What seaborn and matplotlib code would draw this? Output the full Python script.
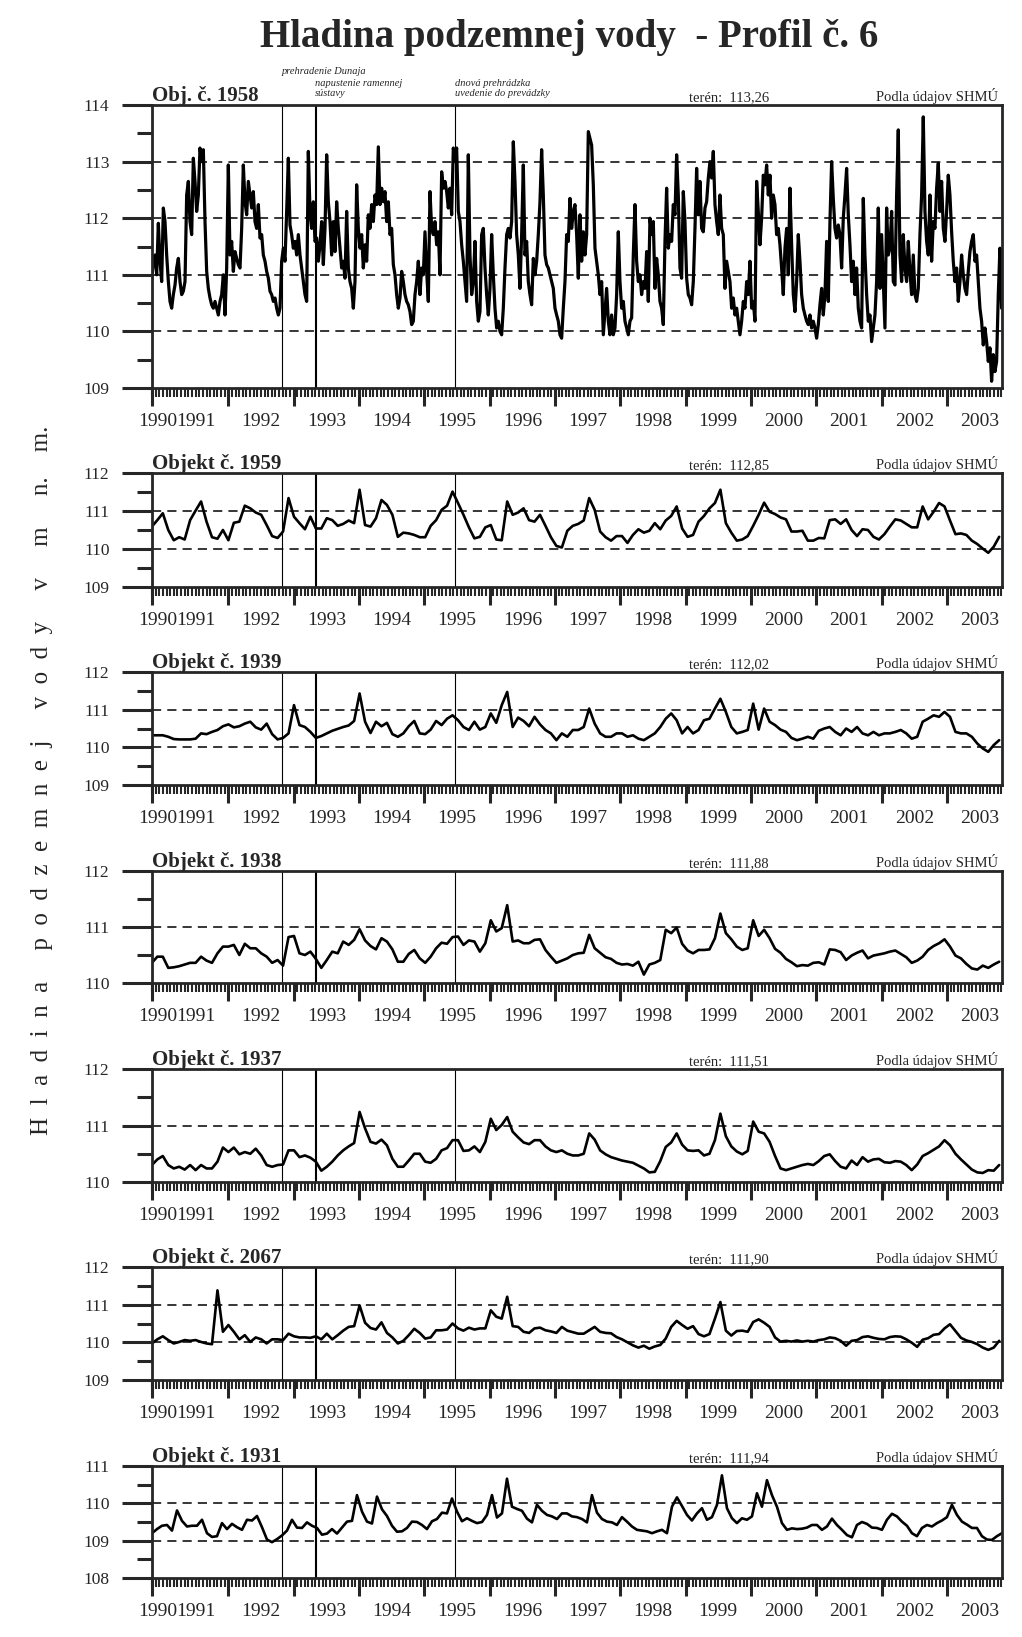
import numpy as np
import pandas as pd
import matplotlib
matplotlib.use("Agg")
import matplotlib.pyplot as plt
import matplotlib.transforms as mtransforms
import seaborn as sns

# ---------------- data (groundwater level, m a.s.l.) ----------------
# measurement period covered by the plots (decimal years)
start_1958, end_1958 = 1990.827, 2003.837
start_mid, end_mid = 1990.83, 2003.80
start_1931, end_1931 = 1990.832, 2003.842

lvl_1958 = [
    110.91,111.24,111.35,111.00,111.91,111.24,110.88,112.18,111.94,111.35,
    110.88,110.53,110.41,110.65,110.82,111.12,111.29,110.88,110.65,110.71,
    110.88,112.41,112.65,111.94,111.71,113.06,112.65,112.12,112.41,113.24,
    113.00,113.21,111.94,111.06,110.76,110.59,110.47,110.41,110.53,110.41,
    110.29,110.53,110.65,111.00,110.29,111.12,112.94,111.35,111.59,111.06,
    111.41,111.29,111.18,111.12,111.82,112.94,112.29,112.06,112.65,112.41,
    112.18,112.47,111.94,111.82,112.24,111.65,111.71,111.35,111.24,111.06,
    110.94,110.71,110.65,110.53,110.59,110.41,110.29,110.41,111.24,111.47,
    111.24,112.12,113.06,111.88,111.71,111.47,111.59,111.35,111.71,111.35,
    111.12,110.88,110.65,110.53,113.18,112.12,111.82,112.29,111.59,111.65,
    111.24,111.53,111.94,111.18,111.82,113.12,112.29,111.94,111.35,111.94,
    111.41,112.29,111.82,111.47,111.12,111.24,110.94,112.12,111.12,110.88,
    110.76,110.41,110.88,112.59,111.82,111.47,111.71,111.12,111.53,111.24,
    112.06,111.82,112.24,111.94,112.41,112.24,113.26,112.24,112.53,112.29,
    112.47,111.94,112.29,111.71,111.82,111.18,111.00,110.65,110.41,110.59,
    111.06,110.88,110.65,110.53,110.47,110.35,110.12,110.18,110.65,110.88,
    111.24,110.65,111.12,111.00,111.76,111.06,110.53,112.47,111.82,111.71,
    111.94,111.53,111.76,111.00,112.82,112.53,112.65,112.47,112.18,112.53,
    112.06,113.24,113.00,113.24,112.12,111.94,111.53,111.24,110.88,110.53,
    113.12,111.35,110.65,110.88,111.59,110.53,110.18,110.35,111.71,111.82,
    111.12,110.65,110.29,110.76,111.71,111.00,110.41,110.06,110.18,110.00,
    109.94,110.41,111.12,111.71,111.82,111.65,111.94,113.35,112.65,111.71,
    111.35,110.76,111.71,112.94,111.35,111.59,110.88,110.65,110.47,111.29,
    111.00,111.24,111.71,112.29,113.21,112.41,111.35,111.18,111.12,111.00,
    110.88,110.76,110.41,110.29,110.18,109.94,109.88,110.41,110.88,111.71,
    111.59,112.35,111.82,112.12,112.24,111.71,110.94,112.06,
    111.24,111.76,111.35,111.71,113.53,113.41,113.29,112.59,111.47,111.24,
    111.00,110.65,110.88,109.94,110.35,110.76,110.18,109.94,110.29,109.94,
    110.06,110.65,111.76,110.88,110.41,110.53,110.18,110.06,109.94,110.18,
    110.24,111.35,112.24,111.24,110.88,111.00,110.65,110.88,110.76,111.41,
    110.53,112.00,111.71,111.94,110.76,111.29,111.00,110.53,110.41,110.12,
    111.59,112.53,111.47,111.71,111.59,112.24,112.06,113.12,112.41,111.12,
    110.94,112.47,111.94,110.94,110.65,110.59,110.47,110.88,111.82,112.88,
    112.06,112.65,111.82,111.76,112.18,112.29,112.71,113.00,112.71,113.18,
    112.24,111.94,111.71,112.41,111.82,111.71,110.76,111.24,111.06,110.88,
    110.41,110.59,110.29,110.41,110.18,109.94,110.18,110.53,110.41,110.88,
    110.65,111.24,110.41,110.53,110.18,112.65,112.12,111.53,112.00,112.76,
    112.59,112.94,112.41,112.76,112.00,112.41,112.24,111.71,111.82,111.53,
    111.12,110.65,111.47,111.82,111.00,112.53,111.53,110.65,110.35,110.88,
    111.71,111.24,110.65,110.41,110.29,110.18,110.12,110.29,110.06,110.18,
    110.06,109.88,110.12,110.47,110.76,110.29,110.65,111.59,110.53,111.94,
    113.00,112.35,111.82,111.65,111.88,111.71,111.12,112.00,112.41,112.88,
    112.06,111.53,110.88,111.24,110.65,111.12,110.41,110.18,110.06,112.35,
    111.35,110.65,110.18,110.29,109.82,110.06,110.29,110.88,112.18,110.76,
    111.71,110.88,110.06,112.18,111.35,111.47,112.12,110.88,110.82,112.41,
    113.56,111.35,110.88,111.71,111.12,110.88,111.59,111.06,110.65,111.35,
    110.65,110.53,110.76,111.71,112.41,113.79,112.12,111.59,111.35,112.41,
    111.24,111.94,111.82,112.53,112.97,112.12,112.65,111.82,111.59,112.12,
    112.76,112.41,111.76,111.24,110.88,111.12,110.53,110.88,111.35,111.00,
    110.76,110.65,111.06,111.41,111.59,111.71,111.24,111.35,110.88,110.41,
    110.18,109.76,110.06,109.82,109.47,109.71,109.12,109.59,109.29,109.47,
    110.65,111.47,110.41,
]

lvl_1959 = [
    110.59,110.76,110.94,110.50,110.23,110.31,110.25,110.76,111.01,111.25,
    110.72,110.31,110.27,110.50,110.23,110.69,110.72,111.14,111.07,110.96,
    110.90,110.63,110.34,110.29,110.46,111.34,110.85,110.68,110.52,110.85,
    110.54,110.54,110.81,110.76,110.61,110.66,110.75,110.68,111.56,110.63,
    110.59,110.81,111.29,111.16,110.90,110.32,110.43,110.41,110.37,110.31,
    110.31,110.61,110.76,111.03,111.14,111.51,111.21,110.90,110.57,110.28,
    110.32,110.57,110.63,110.25,110.23,111.25,110.90,110.96,111.07,110.76,
    110.72,110.90,110.61,110.31,110.08,110.04,110.48,110.61,110.66,110.75,
    111.34,111.03,110.46,110.31,110.22,110.34,110.34,110.16,110.37,110.52,
    110.43,110.48,110.68,110.52,110.75,110.87,111.12,110.54,110.32,110.37,
    110.72,110.87,111.07,111.21,111.56,110.68,110.43,110.22,110.25,110.34,
    110.61,110.90,111.22,110.98,110.92,110.83,110.78,110.46,110.46,110.48,
    110.22,110.22,110.29,110.28,110.76,110.78,110.66,110.78,110.50,110.34,
    110.52,110.50,110.32,110.25,110.39,110.59,110.78,110.75,110.66,110.57,
    110.57,111.12,110.78,110.98,111.21,111.12,110.75,110.39,110.41,110.37,
    110.22,110.13,110.01,109.90,110.06,110.32,
]

lvl_1939 = [
    110.32,110.32,110.32,110.28,110.22,110.21,110.21,110.21,110.23,110.37,
    110.35,110.41,110.46,110.56,110.61,110.53,110.56,110.63,110.68,110.53,
    110.47,110.63,110.35,110.21,110.25,110.37,111.12,110.59,110.54,110.41,
    110.25,110.30,110.37,110.44,110.49,110.54,110.58,110.70,111.43,110.68,
    110.38,110.68,110.56,110.65,110.35,110.28,110.37,110.56,110.70,110.37,
    110.35,110.47,110.70,110.59,110.76,110.85,110.72,110.54,110.46,110.68,
    110.47,110.54,110.90,110.65,111.12,111.47,110.54,110.79,110.70,110.56,
    110.81,110.61,110.46,110.37,110.19,110.37,110.28,110.46,110.46,110.54,
    111.03,110.63,110.37,110.28,110.28,110.37,110.37,110.28,110.32,110.23,
    110.19,110.28,110.37,110.54,110.76,110.90,110.72,110.37,110.54,110.37,
    110.46,110.72,110.76,111.03,111.29,110.94,110.54,110.37,110.41,110.46,
    111.16,110.47,111.03,110.68,110.59,110.47,110.41,110.25,110.19,110.23,
    110.28,110.23,110.44,110.50,110.54,110.41,110.32,110.50,110.41,110.54,
    110.37,110.32,110.41,110.32,110.37,110.37,110.41,110.46,110.37,110.23,
    110.28,110.68,110.76,110.85,110.81,110.94,110.81,110.41,110.37,110.37,
    110.28,110.10,109.97,109.88,110.06,110.19,
]

lvl_1938 = [
    110.36,110.47,110.47,110.27,110.28,110.30,110.33,110.36,110.36,110.47,
    110.40,110.36,110.53,110.65,110.65,110.68,110.50,110.70,110.62,110.62,
    110.53,110.47,110.36,110.41,110.31,110.82,110.84,110.53,110.50,110.56,
    110.43,110.27,110.41,110.56,110.53,110.74,110.68,110.77,110.96,110.76,
    110.66,110.60,110.80,110.74,110.60,110.38,110.38,110.52,110.59,110.44,
    110.36,110.47,110.62,110.72,110.70,110.82,110.83,110.68,110.76,110.74,
    110.56,110.71,111.12,110.92,110.98,111.39,110.74,110.76,110.71,110.71,
    110.77,110.78,110.59,110.47,110.36,110.40,110.44,110.50,110.53,110.54,
    110.86,110.62,110.54,110.46,110.43,110.36,110.33,110.34,110.31,110.38,
    110.15,110.33,110.36,110.41,110.95,110.89,110.99,110.70,110.58,110.53,
    110.59,110.59,110.60,110.80,111.24,110.89,110.78,110.65,110.59,110.62,
    111.12,110.84,110.95,110.80,110.61,110.54,110.43,110.37,110.30,110.32,
    110.31,110.36,110.37,110.33,110.60,110.59,110.55,110.41,110.49,110.54,
    110.58,110.44,110.49,110.51,110.53,110.56,110.58,110.52,110.46,110.36,
    110.40,110.47,110.59,110.66,110.71,110.78,110.65,110.49,110.44,110.34,
    110.26,110.24,110.31,110.27,110.33,110.38,
]

lvl_1937 = [
    110.30,110.40,110.46,110.30,110.24,110.27,110.22,110.30,110.21,110.30,
    110.24,110.24,110.36,110.61,110.53,110.61,110.49,110.53,110.50,110.59,
    110.47,110.30,110.27,110.30,110.31,110.56,110.56,110.44,110.47,110.43,
    110.36,110.20,110.27,110.36,110.47,110.56,110.63,110.69,111.24,110.95,
    110.71,110.68,110.75,110.65,110.41,110.27,110.27,110.38,110.50,110.50,
    110.36,110.34,110.41,110.56,110.60,110.74,110.74,110.55,110.56,110.63,
    110.53,110.71,111.12,110.92,111.01,111.15,110.89,110.79,110.70,110.67,
    110.74,110.74,110.63,110.56,110.53,110.56,110.50,110.47,110.47,110.50,
    110.86,110.75,110.56,110.49,110.44,110.41,110.38,110.36,110.34,110.29,
    110.24,110.17,110.18,110.37,110.62,110.70,110.86,110.66,110.56,110.55,
    110.56,110.47,110.50,110.74,111.21,110.81,110.63,110.54,110.49,110.55,
    111.07,110.89,110.86,110.71,110.46,110.24,110.21,110.24,110.27,110.30,
    110.32,110.30,110.37,110.46,110.49,110.37,110.27,110.24,110.38,110.30,
    110.44,110.36,110.40,110.41,110.35,110.34,110.37,110.36,110.30,110.21,
    110.31,110.46,110.51,110.57,110.63,110.74,110.65,110.50,110.40,110.31,
    110.22,110.17,110.16,110.21,110.20,110.30,
]

lvl_2067 = [
    109.97,110.08,110.16,110.06,109.97,110.01,110.06,110.04,110.06,110.01,
    109.97,109.95,111.38,110.28,110.46,110.28,110.08,110.19,110.01,110.13,
    110.08,109.97,110.08,110.08,110.06,110.23,110.16,110.13,110.13,110.12,
    110.16,110.08,110.23,110.08,110.19,110.31,110.41,110.43,110.98,110.52,
    110.38,110.34,110.53,110.25,110.13,109.97,110.04,110.19,110.36,110.25,
    110.10,110.13,110.32,110.32,110.34,110.50,110.37,110.31,110.39,110.34,
    110.37,110.37,110.85,110.68,110.63,111.21,110.43,110.41,110.28,110.25,
    110.37,110.39,110.32,110.29,110.25,110.41,110.31,110.27,110.23,110.23,
    110.32,110.41,110.28,110.25,110.24,110.14,110.08,110.00,109.92,109.86,
    109.91,109.83,109.89,109.93,110.10,110.41,110.57,110.46,110.36,110.43,
    110.22,110.16,110.22,110.63,111.07,110.31,110.18,110.30,110.31,110.28,
    110.54,110.61,110.52,110.41,110.13,110.02,110.04,110.02,110.05,110.02,
    110.04,110.02,110.06,110.08,110.13,110.11,110.04,109.91,110.04,110.06,
    110.14,110.16,110.12,110.09,110.08,110.14,110.16,110.15,110.08,109.99,
    109.88,110.07,110.11,110.20,110.22,110.37,110.48,110.30,110.12,110.05,
    110.01,109.95,109.86,109.80,109.86,110.04,
]

lvl_1931 = [
    109.20,109.31,109.40,109.42,109.27,109.81,109.53,109.38,109.40,109.40,
    109.56,109.20,109.10,109.12,109.47,109.31,109.45,109.36,109.29,109.56,
    109.54,109.66,109.36,109.03,108.96,109.04,109.14,109.27,109.56,109.35,
    109.34,109.49,109.40,109.34,109.16,109.19,109.31,109.19,109.35,109.51,
    109.53,110.22,109.78,109.51,109.46,110.18,109.84,109.66,109.40,109.24,
    109.25,109.34,109.51,109.50,109.42,109.31,109.52,109.58,109.75,109.73,
    110.13,109.78,109.52,109.60,109.53,109.47,109.50,109.69,110.22,109.62,
    109.73,110.66,109.91,109.85,109.80,109.59,109.49,109.96,109.80,109.69,
    109.65,109.58,109.73,109.73,109.65,109.63,109.58,109.49,110.22,109.75,
    109.58,109.51,109.49,109.42,109.63,109.51,109.38,109.29,109.27,109.25,
    109.20,109.25,109.29,109.20,109.91,110.16,109.93,109.69,109.54,109.73,
    109.87,109.56,109.63,109.96,110.75,109.87,109.60,109.47,109.60,109.56,
    109.65,110.27,109.91,110.62,110.22,109.91,109.47,109.29,109.33,109.31,
    109.32,109.35,109.42,109.42,109.29,109.38,109.59,109.42,109.29,109.15,
    109.09,109.42,109.50,109.45,109.35,109.34,109.29,109.56,109.72,109.65,
    109.51,109.40,109.20,109.12,109.34,109.42,109.38,109.47,109.54,109.63,
    109.96,109.69,109.51,109.43,109.34,109.34,109.12,109.03,109.02,109.12,
    109.20,
]

objects = ["Obj. č. 1958", "Objekt č. 1959", "Objekt č. 1939", "Objekt č. 1938",
           "Objekt č. 1937", "Objekt č. 2067", "Objekt č. 1931"]
terrain = ["113,26", "112,85", "112,02", "111,88", "111,51", "111,90", "111,94"]
ylims = [(109, 114), (109, 112), (109, 112), (110, 112), (110, 112), (109, 112), (108, 111)]
ref_levels = [[110, 111, 112, 113], [110, 111], [110, 111], [111], [111], [110, 111], [109, 110]]

# events (decimal year) and their captions
events = [1992.82, 1993.34, 1995.47]
event_text = [["prehradenie Dunaja"],
              ["napustenie ramennej", "sústavy"],
              ["dnová prehrádzka", "uvedenie do prevádzky"]]
year_labels = list(range(1991, 2004))

series = [
    pd.DataFrame({"t": np.linspace(start_1958, end_1958, len(lvl_1958)), "h": lvl_1958}),
    pd.DataFrame({"t": np.linspace(start_mid, end_mid, len(lvl_1959)), "h": lvl_1959}),
    pd.DataFrame({"t": np.linspace(start_mid, end_mid, len(lvl_1939)), "h": lvl_1939}),
    pd.DataFrame({"t": np.linspace(start_mid, end_mid, len(lvl_1938)), "h": lvl_1938}),
    pd.DataFrame({"t": np.linspace(start_mid, end_mid, len(lvl_1937)), "h": lvl_1937}),
    pd.DataFrame({"t": np.linspace(start_mid, end_mid, len(lvl_2067)), "h": lvl_2067}),
    pd.DataFrame({"t": np.linspace(start_1931, end_1931, len(lvl_1931)), "h": lvl_1931}),
]

# ---------------- figure ----------------
sns.set_style("ticks")
plt.rcParams["font.family"] = ["Liberation Serif", "DejaVu Serif"]

W, H = 1022, 1637
fig = plt.figure(figsize=(W / 100, H / 100), dpi=100)

# panel boxes in pixels (top, bottom)
boxes = [(105, 388), (473, 587), (672, 785), (871, 983), (1069, 1182), (1267, 1380), (1466, 1578)]
x0, x1 = 1990.832, 2003.843
left_px, right_px = 152, 1002

for i, (top, bot) in enumerate(boxes):
    ax = fig.add_axes([left_px / W, 1 - bot / H, (right_px - left_px) / W, (bot - top) / H])
    lw = 2.3 if i == 0 else 1.9
    sns.lineplot(data=series[i], x="t", y="h", ax=ax, color="black", linewidth=lw)
    ax.set_xlim(x0, x1)
    ax.set_ylim(*ylims[i])
    ax.set_xlabel("")
    ax.set_ylabel("")

    for lev in ref_levels[i]:
        ax.axhline(lev, color="black", linewidth=1.1, linestyle=(0, (6, 4)), zorder=1)
    for ev, evw in zip(events, [0.8, 1.5, 0.8]):
        ax.axvline(ev, color="black", linewidth=evw, zorder=1)

    for s in ax.spines.values():
        s.set_linewidth(2.0)
        s.set_visible(True)

    # y axis
    ax.set_yticks(np.arange(ylims[i][0], ylims[i][1] + 0.01, 1))
    ax.set_yticks(np.arange(ylims[i][0] + 0.5, ylims[i][1], 1), minor=True)
    ax.set_yticklabels([str(v) for v in range(ylims[i][0], ylims[i][1] + 1)])
    ax.tick_params(axis="y", which="major", length=21.6, width=2.2, labelsize=12.5, pad=9)
    ax.tick_params(axis="y", which="minor", length=10.8, width=2.2)

    # x axis: year boundaries long, short ticks in between
    ax.set_xticks([x0] + list(range(1992, 2004)))
    minor = np.arange(1990 + 15 / 18, x1, 1 / 18)
    ax.set_xticks(minor, minor=True)
    ax.tick_params(axis="x", which="major", length=13, width=2.2, labelbottom=False)
    ax.tick_params(axis="x", which="minor", length=6.5, width=1.5)

    xtrans = mtransforms.blended_transform_factory(ax.transData, ax.transAxes)
    ax.annotate("1990", xy=((x0 + 1991) / 2, 0), xycoords=xtrans, xytext=(0, -24),
                textcoords="offset points", ha="center", va="center", fontsize=14)
    for yr in year_labels:
        ax.annotate(str(yr), xy=(yr + 0.5, 0), xycoords=xtrans, xytext=(0, -24),
                    textcoords="offset points", ha="center", va="center", fontsize=14)

    # headers
    head = mtransforms.offset_copy(ax.transAxes, fig=fig, x=0, y=4, units="dots")
    ax.text(0.0, 1.0, objects[i], transform=head, ha="left", va="baseline",
            fontsize=15, fontweight="bold")
    ax.text(0.632, 1.0, "terén:  " + terrain[i], transform=head, ha="left",
            va="baseline", fontsize=10.5)
    ax.text(0.995, 1.0, "Podla údajov SHMÚ", transform=head, ha="right",
            va="baseline", fontsize=10.5)

# event captions above the first panel
cap_x = [282, 315, 455]
cap_y = [[72], [83, 93], [83, 93]]
for cx, cys, lines in zip(cap_x, cap_y, event_text):
    for cy, txt in zip(cys, lines):
        fig.text(cx / W, 1 - cy / H, txt, ha="left", va="center", fontsize=7.5, style="italic")

fig.text(569 / W, 1 - 37 / H, "Hladina podzemnej vody  - Profil č. 6", ha="center",
         va="center", fontsize=28, fontweight="bold")

ylab = "H  l  a  d  i  n  a     p  o  d  z  e  m  n  e  j     v  o  d  y     v     m     n.    m."
fig.text(42 / W, 1 - 780 / H, ylab, rotation=90, ha="center", va="center", fontsize=18)

fig.savefig("out.png", dpi=100)
